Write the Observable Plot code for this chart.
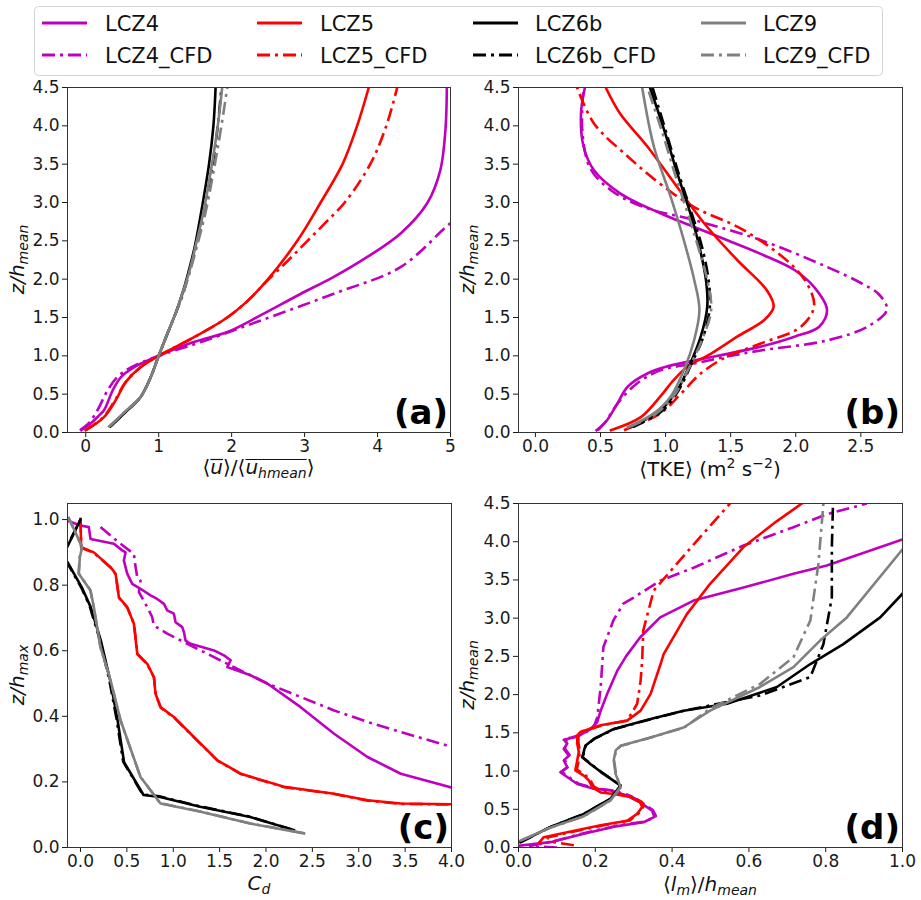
<!DOCTYPE html>
<html>
<head>
<meta charset="utf-8">
<script src="https://cdn.jsdelivr.net/npm/d3@7"></script>
<script src="https://cdn.jsdelivr.net/npm/@observablehq/plot@0.6"></script>
<style>
  body { margin: 0; background: #fff; }
  #fig { position: relative; width: 921px; height: 900px; font-family: "DejaVu Sans", sans-serif; overflow: hidden; }
  #fig svg { position: absolute; overflow: visible; }
</style>
</head>
<body>
<div id="fig"></div>
<script>
// ---------------- series meta ----------------
const seriesNames = ["LCZ4", "LCZ4_CFD", "LCZ5", "LCZ5_CFD", "LCZ6b", "LCZ6b_CFD", "LCZ9", "LCZ9_CFD"];
const seriesColors = ["#bf00bf", "#bf00bf", "#ff0000", "#ff0000", "#000000", "#000000", "#808080", "#808080"];

// ---------------- tick values ----------------
const aXTicks = [0, 1, 2, 3, 4, 5];
const bXTicks = [0, 0.5, 1.0, 1.5, 2.0, 2.5];
const cXTicks = [0, 0.5, 1.0, 1.5, 2.0, 2.5, 3.0, 3.5, 4.0];
const dXTicks = [0, 0.2, 0.4, 0.6, 0.8, 1.0];
const zTicks = [0, 0.5, 1.0, 1.5, 2.0, 2.5, 3.0, 3.5, 4.0, 4.5];
const cYTicks = [0, 0.2, 0.4, 0.6, 0.8, 1.0];

// ---------------- (a) <u>/<u_hmean> vs z/h_mean ----------------
const a_LCZ4 = [[-0.06,0.03],[0.07,0.12],[0.18,0.22],[0.25,0.29],[0.37,0.55],[0.48,0.72],[0.66,0.85],[1.0,1.0],[1.48,1.18],[1.94,1.31],[2.4,1.53],[2.95,1.81],[3.4,2.03],[3.86,2.29],[4.32,2.6],[4.68,2.99],[4.86,3.42],[4.93,3.94],[4.95,4.5]];
const a_LCZ4_CFD = [[-0.08,0.03],[0.05,0.13],[0.16,0.29],[0.3,0.55],[0.43,0.72],[0.62,0.85],[1.0,1.0],[1.58,1.18],[2.31,1.43],[3.4,1.81],[4.32,2.16],[5.0,2.73],[5.2,2.85]];
const a_LCZ5 = [[0.0,0.03],[0.25,0.2],[0.41,0.42],[0.55,0.66],[0.75,0.85],[1.0,1.0],[1.48,1.24],[1.94,1.5],[2.2,1.7],[2.49,1.99],[2.9,2.5],[3.22,3.0],[3.52,3.5],[3.72,4.0],[3.88,4.5]];
const a_LCZ5_CFD = [[0.0,0.03],[0.24,0.2],[0.4,0.42],[0.55,0.66],[0.75,0.85],[1.0,1.0],[1.48,1.24],[1.94,1.5],[2.2,1.7],[2.5,1.99],[2.78,2.25],[3.04,2.5],[3.3,2.75],[3.55,3.0],[3.9,3.5],[4.12,4.0],[4.27,4.5]];
const a_LCZ6b = [[0.34,0.08],[0.57,0.29],[0.75,0.46],[0.89,0.72],[1.0,1.0],[1.12,1.29],[1.23,1.55],[1.32,1.8],[1.41,2.1],[1.5,2.45],[1.58,2.86],[1.69,3.5],[1.75,4.0],[1.78,4.5]];
const a_LCZ6b_CFD = [[0.34,0.08],[0.57,0.29],[0.75,0.46],[0.89,0.72],[1.0,1.0],[1.12,1.29],[1.23,1.55],[1.33,1.8],[1.42,2.1],[1.52,2.45],[1.62,2.86],[1.74,3.5],[1.81,4.0],[1.86,4.5]];
const a_LCZ9 = [[0.32,0.08],[0.56,0.29],[0.75,0.46],[0.89,0.72],[1.0,1.0],[1.12,1.29],[1.23,1.55],[1.32,1.8],[1.42,2.1],[1.51,2.45],[1.61,2.86],[1.73,3.5],[1.81,4.0],[1.87,4.5]];
const a_LCZ9_CFD = [[0.33,0.08],[0.56,0.29],[0.75,0.46],[0.89,0.72],[1.0,1.0],[1.12,1.29],[1.23,1.55],[1.33,1.8],[1.43,2.1],[1.53,2.45],[1.64,2.86],[1.77,3.5],[1.86,4.0],[1.94,4.5]];

// ---------------- (b) <TKE> vs z/h_mean ----------------
const b_LCZ4 = [[0.47,0.03],[0.55,0.16],[0.63,0.38],[0.71,0.6],[0.86,0.77],[1.01,0.86],[1.4,1.0],[1.73,1.12],[1.99,1.25],[2.18,1.38],[2.24,1.6],[2.14,1.9],[1.99,2.12],[1.73,2.33],[1.47,2.51],[1.22,2.68],[0.96,2.86],[0.65,3.12],[0.45,3.42],[0.37,3.73],[0.35,4.16],[0.38,4.5]];
const b_LCZ4_CFD = [[0.48,0.03],[0.53,0.12],[0.6,0.3],[0.65,0.42],[0.78,0.64],[0.96,0.81],[1.22,0.9],[1.47,0.99],[1.73,1.07],[2.24,1.2],[2.55,1.38],[2.7,1.6],[2.64,1.8],[2.5,1.95],[2.24,2.16],[1.73,2.51],[1.22,2.77],[0.83,2.94],[0.58,3.16],[0.42,3.45],[0.36,3.94],[0.37,4.5]];
const b_LCZ5 = [[0.58,0.03],[0.81,0.2],[0.96,0.47],[1.06,0.68],[1.17,0.86],[1.35,1.03],[1.55,1.25],[1.76,1.47],[1.83,1.64],[1.78,1.85],[1.55,2.25],[1.32,2.68],[1.09,3.2],[0.86,3.73],[0.65,4.16],[0.54,4.5]];
const b_LCZ5_CFD = [[0.68,0.03],[0.96,0.25],[1.12,0.51],[1.27,0.77],[1.47,0.99],[1.73,1.16],[2.04,1.38],[2.14,1.64],[2.1,1.9],[1.96,2.2],[1.6,2.64],[1.22,2.94],[0.96,3.24],[0.71,3.6],[0.45,4.03],[0.32,4.5]];
const b_LCZ6b = [[0.73,0.07],[0.96,0.29],[1.09,0.55],[1.19,0.9],[1.27,1.25],[1.32,1.64],[1.31,1.99],[1.26,2.42],[1.19,2.86],[1.09,3.38],[0.99,3.94],[0.88,4.5]];
const b_LCZ6b_CFD = [[0.75,0.07],[0.98,0.29],[1.1,0.55],[1.2,0.9],[1.29,1.25],[1.34,1.64],[1.33,1.99],[1.28,2.42],[1.2,2.86],[1.1,3.38],[1.0,3.94],[0.9,4.5]];
const b_LCZ9 = [[0.71,0.07],[0.91,0.25],[1.04,0.47],[1.14,0.81],[1.22,1.21],[1.26,1.6],[1.22,1.99],[1.14,2.51],[1.04,3.07],[0.91,3.73],[0.82,4.5]];
const b_LCZ9_CFD = [[0.72,0.07],[0.93,0.25],[1.06,0.47],[1.17,0.81],[1.28,1.21],[1.35,1.6],[1.32,1.99],[1.25,2.42],[1.17,2.86],[1.07,3.38],[0.97,3.94],[0.86,4.5]];

// ---------------- (c) C_d vs z/h_max ----------------
const c_LCZ4 = [[-0.2,1.0],[-0.144,0.997],[0.0,0.982],[0.09,0.977],[0.108,0.941],[0.36,0.926],[0.45,0.906],[0.486,0.9],[0.468,0.875],[0.504,0.835],[0.558,0.804],[0.647,0.789],[0.755,0.769],[0.827,0.758],[0.9,0.743],[0.935,0.723],[1.007,0.713],[1.025,0.687],[1.097,0.672],[1.115,0.657],[1.133,0.631],[1.187,0.621],[1.439,0.601],[1.547,0.586],[1.619,0.571],[1.583,0.55],[1.835,0.525],[2.014,0.5],[2.374,0.428],[2.734,0.347],[3.094,0.276],[3.453,0.225],[4.0,0.183]];
const c_LCZ4_CFD = [[0.216,0.977],[0.432,0.926],[0.576,0.895],[0.594,0.855],[0.612,0.824],[0.647,0.814],[0.63,0.779],[0.72,0.733],[0.773,0.703],[0.791,0.677],[0.935,0.652],[1.295,0.601],[1.655,0.55],[2.014,0.5],[2.374,0.459],[2.734,0.418],[3.094,0.383],[3.453,0.352],[4.0,0.307]];
const c_LCZ5 = [[0.0,1.002],[0.007,0.916],[0.144,0.9],[0.324,0.855],[0.378,0.835],[0.414,0.763],[0.504,0.733],[0.576,0.682],[0.612,0.591],[0.72,0.56],[0.791,0.52],[0.809,0.469],[0.863,0.428],[1.007,0.398],[1.223,0.337],[1.475,0.266],[1.727,0.225],[2.194,0.185],[2.734,0.164],[3.094,0.144],[3.453,0.134],[4.0,0.132]];
const c_LCZ5_CFD = [[0.0,1.0],[0.008,0.914],[0.146,0.898],[0.326,0.853],[0.38,0.833],[0.416,0.761],[0.506,0.731],[0.578,0.68],[0.614,0.589],[0.722,0.558],[0.793,0.518],[0.811,0.467],[0.866,0.426],[1.01,0.396],[1.226,0.335],[1.478,0.265],[1.73,0.224],[2.197,0.184],[2.737,0.163],[3.097,0.143],[3.456,0.133],[4.0,0.131]];
const c_LCZ6b = [[2.3,0.053],[1.83,0.093],[1.29,0.124],[0.86,0.154],[0.68,0.16],[0.47,0.26],[0.4,0.388],[0.32,0.51],[0.22,0.63],[0.11,0.733],[0.02,0.79],[-0.14,0.87],[-0.3,0.9],[-0.144,0.916],[0.0,1.0]];
const c_LCZ6b_CFD = [[2.28,0.055],[1.81,0.095],[1.28,0.126],[0.85,0.156],[0.67,0.162],[0.46,0.262],[0.39,0.39],[0.31,0.512],[0.21,0.632],[0.1,0.735],[0.01,0.792],[-0.15,0.872],[-0.3,0.9],[-0.145,0.918],[0.0,1.0]];
const c_LCZ9 = [[2.41,0.043],[1.83,0.073],[1.295,0.109],[0.863,0.134],[0.647,0.215],[0.432,0.388],[0.324,0.51],[0.216,0.611],[0.144,0.733],[0.108,0.784],[-0.018,0.835],[-0.007,0.885],[0.018,0.916],[-0.126,1.005]];
const c_LCZ9_CFD = [[2.4,0.044],[1.82,0.074],[1.29,0.11],[0.86,0.135],[0.645,0.216],[0.43,0.389],[0.322,0.511],[0.214,0.612],[0.142,0.734],[0.106,0.785],[-0.02,0.836],[-0.009,0.886],[0.016,0.917],[-0.128,1.005]];

// ---------------- (d) <l_m>/h_mean vs z/h_mean ----------------
const d_LCZ4 = [[0.0,0.022],[0.083,0.07],[0.17,0.18],[0.257,0.28],[0.326,0.33],[0.354,0.4],[0.348,0.48],[0.317,0.59],[0.282,0.68],[0.24,0.746],[0.196,0.77],[0.153,0.83],[0.109,0.985],[0.127,1.05],[0.118,1.14],[0.131,1.2],[0.118,1.29],[0.127,1.36],[0.118,1.41],[0.135,1.43],[0.153,1.45],[0.188,1.55],[0.205,1.64],[0.214,1.79],[0.231,2.01],[0.257,2.31],[0.28,2.5],[0.317,2.75],[0.369,3.01],[0.456,3.23],[0.586,3.4],[0.716,3.58],[0.803,3.69],[1.0,4.03]];
const d_LCZ4_CFD = [[0.1,0.0],[0.03,0.02],[0.09,0.08],[0.18,0.2],[0.262,0.29],[0.33,0.34],[0.358,0.41],[0.35,0.49],[0.318,0.6],[0.284,0.69],[0.242,0.75],[0.198,0.775],[0.156,0.835],[0.112,0.99],[0.13,1.06],[0.12,1.15],[0.133,1.21],[0.12,1.3],[0.129,1.37],[0.12,1.42],[0.138,1.44],[0.16,1.47],[0.195,1.56],[0.205,1.7],[0.214,2.1],[0.221,2.62],[0.247,2.97],[0.273,3.19],[0.3,3.27],[0.369,3.49],[0.456,3.66],[0.586,3.95],[0.716,4.19],[0.803,4.36],[0.907,4.5]];
const d_LCZ5 = [[0.053,0.06],[0.066,0.135],[0.127,0.2],[0.214,0.29],[0.283,0.35],[0.309,0.44],[0.322,0.53],[0.317,0.59],[0.291,0.66],[0.248,0.7],[0.214,0.72],[0.192,0.79],[0.183,0.88],[0.17,0.94],[0.148,1.01],[0.153,1.14],[0.157,1.25],[0.153,1.36],[0.153,1.465],[0.161,1.51],[0.214,1.6],[0.283,1.66],[0.318,1.79],[0.344,2.01],[0.37,2.4],[0.378,2.53],[0.438,3.05],[0.499,3.45],[0.586,3.93],[0.673,4.27],[0.738,4.5]];
const d_LCZ5_CFD = [[0.144,0.03],[0.092,0.07],[0.075,0.13],[0.135,0.2],[0.222,0.29],[0.29,0.355],[0.314,0.45],[0.326,0.54],[0.32,0.6],[0.294,0.67],[0.252,0.71],[0.218,0.73],[0.196,0.8],[0.186,0.89],[0.173,0.95],[0.152,1.02],[0.157,1.15],[0.16,1.26],[0.156,1.37],[0.156,1.47],[0.166,1.52],[0.22,1.6],[0.283,1.66],[0.309,1.88],[0.318,2.18],[0.322,2.45],[0.325,2.84],[0.352,3.36],[0.412,3.71],[0.473,4.06],[0.551,4.5]];
const d_LCZ6b = [[0.005,0.07],[0.083,0.27],[0.17,0.44],[0.24,0.64],[0.266,0.81],[0.214,0.99],[0.188,1.09],[0.166,1.18],[0.174,1.33],[0.196,1.42],[0.248,1.55],[0.344,1.68],[0.43,1.79],[0.543,1.88],[0.673,2.1],[0.76,2.4],[0.846,2.66],[0.942,3.01],[1.0,3.32]];
const d_LCZ6b_CFD = [[0.006,0.07],[0.084,0.27],[0.171,0.44],[0.241,0.64],[0.266,0.81],[0.215,0.99],[0.189,1.09],[0.167,1.18],[0.175,1.33],[0.197,1.42],[0.25,1.55],[0.346,1.68],[0.432,1.79],[0.54,1.9],[0.63,1.99],[0.76,2.23],[0.794,2.66],[0.816,3.27],[0.816,3.92],[0.819,4.5]];
const d_LCZ9 = [[0.005,0.09],[0.083,0.26],[0.17,0.41],[0.24,0.62],[0.266,0.79],[0.253,0.96],[0.248,1.14],[0.253,1.27],[0.266,1.33],[0.344,1.44],[0.43,1.57],[0.499,1.79],[0.629,2.1],[0.716,2.36],[0.786,2.71],[0.855,3.01],[1.0,3.9]];
const d_LCZ9_CFD = [[0.006,0.09],[0.084,0.26],[0.171,0.41],[0.241,0.62],[0.266,0.79],[0.254,0.96],[0.249,1.14],[0.254,1.27],[0.267,1.33],[0.345,1.44],[0.432,1.57],[0.5,1.82],[0.629,2.14],[0.716,2.49],[0.76,2.97],[0.781,3.71],[0.794,4.5]];

// ---------------- helpers ----------------
const fig = document.getElementById("fig");
const dashDot = "13,5,3,5";

function mathText(sel, x, y, parts, rotate) {
  const t = sel.append("text")
    .attr("text-anchor", "middle")
    .attr("font-family", "DejaVu Sans")
    .attr("font-size", 20)
    .attr("fill", "#111");
  if (rotate) t.attr("transform", `translate(${x},${y}) rotate(-90)`);
  else t.attr("x", x).attr("y", y);
  let shift = 0;
  const nodes = [];
  parts.forEach(p => {
    const target = p.sub ? 4 : p.sup ? -8 : 0;
    const ts = t.append("tspan").text(p.t).attr("dy", target - shift);
    shift = target;
    if (p.sub || p.sup) ts.attr("font-size", 14);
    if (p.it) ts.attr("font-style", "italic");
    nodes.push(ts.node());
  });
  return {t, nodes};
}

function panel(cfg) {
  const lines = cfg.data.map((d, i) => Plot.line(d, {
    x: p => p[0], y: p => p[1],
    stroke: seriesColors[i],
    strokeWidth: 2.6,
    strokeDasharray: i % 2 ? dashDot : undefined,
    strokeLinecap: i % 2 ? "butt" : "square",
    strokeLinejoin: "round",
    curve: cfg.curve,
    clip: true
  }));
  const svg = Plot.plot({
    width: cfg.w, height: cfg.h,
    marginLeft: cfg.ml, marginRight: cfg.mr, marginTop: cfg.mt, marginBottom: cfg.mb,
    style: {fontFamily: "DejaVu Sans", fontSize: "17px", color: "#1a1a1a", background: "transparent", overflow: "visible"},
    x: {domain: cfg.xd},
    y: {domain: cfg.yd},
    marks: [
      ...lines,
      Plot.axisX({ticks: cfg.xt, tickFormat: cfg.xf, tickSize: 5, tickPadding: 2, fontSize: 17, label: null}),
      Plot.axisY({ticks: cfg.yt, tickFormat: cfg.yf, tickSize: 5, tickPadding: 3, fontSize: 17, label: null}),
      Plot.frame({stroke: "#333", strokeWidth: 1})
    ]
  });
  svg.style.left = cfg.left + "px";
  svg.style.top = cfg.top + "px";
  fig.appendChild(svg);
  const s = d3.select(svg);
  // panel tag
  s.append("text")
    .attr("x", cfg.w - cfg.mr - 2)
    .attr("y", cfg.h - cfg.mb - 8)
    .attr("text-anchor", "end")
    .attr("font-family", "DejaVu Sans")
    .attr("font-weight", "bold")
    .attr("font-size", 34)
    .attr("fill", "#000")
    .text(cfg.tag);
  // y label
  mathText(s, cfg.ylx, cfg.mt + (cfg.h - cfg.mt - cfg.mb) / 2, cfg.ylabel, true);
  // x label
  const xl = mathText(s, cfg.ml + (cfg.w - cfg.ml - cfg.mr) / 2, cfg.h - cfg.xlb, cfg.xlabel, false);
  if (cfg.overlines) {
    cfg.overlines.forEach(([i0, i1]) => {
      try {
        const n0 = xl.nodes[i0], n1 = xl.nodes[i1];
        const e0 = n0.getExtentOfChar(0);
        const e1 = n1.getExtentOfChar(n1.textContent.length - 1);
        const yb = cfg.h - cfg.xlb - 14.5;
        s.append("line").attr("x1", e0.x).attr("x2", e1.x + e1.width)
          .attr("y1", yb).attr("y2", yb).attr("stroke", "#111").attr("stroke-width", 1.2);
      } catch (e) {}
    });
  }
  return svg;
}

const f1 = d3.format(".1f");
const zLabel = [{t: "z/h", it: true}, {t: "mean", it: true, sub: true}];

panel({
  tag: "(a)", left: 0, top: 78, w: 460, h: 402, ml: 67, mr: 10, mt: 9, mb: 48,
  xd: [-0.25, 5], yd: [0, 4.5], xt: aXTicks, xf: d => String(d), yt: zTicks, yf: f1,
  curve: "catmull-rom",
  data: [a_LCZ4, a_LCZ4_CFD, a_LCZ5, a_LCZ5_CFD, a_LCZ6b, a_LCZ6b_CFD, a_LCZ9, a_LCZ9_CFD],
  ylx: 24, ylabel: zLabel,
  xlb: 6,
  xlabel: [{t: "⟨"}, {t: "u", it: true}, {t: "⟩/⟨"}, {t: "u", it: true}, {t: "hmean", it: true, sub: true}, {t: "⟩"}],
  overlines: [[1, 1], [3, 4]]
});

panel({
  tag: "(b)", left: 460, top: 78, w: 461, h: 402, ml: 58, mr: 19, mt: 9, mb: 48,
  xd: [-0.13, 2.82], yd: [0, 4.5], xt: bXTicks, xf: f1, yt: zTicks, yf: f1,
  curve: "catmull-rom",
  data: [b_LCZ4, b_LCZ4_CFD, b_LCZ5, b_LCZ5_CFD, b_LCZ6b, b_LCZ6b_CFD, b_LCZ9, b_LCZ9_CFD],
  ylx: 14, ylabel: zLabel,
  xlb: 4,
  xlabel: [{t: "⟨TKE⟩ (m"}, {t: "2", sup: true}, {t: " s"}, {t: "−2", sup: true}, {t: ")"}]
});

panel({
  tag: "(c)", left: 0, top: 480, w: 460, h: 420, ml: 67, mr: 9, mt: 23, mb: 53,
  xd: [-0.14, 4], yd: [0, 1.049], xt: cXTicks, xf: f1, yt: cYTicks, yf: f1,
  curve: "linear",
  data: [c_LCZ4, c_LCZ4_CFD, c_LCZ5, c_LCZ5_CFD, c_LCZ6b, c_LCZ6b_CFD, c_LCZ9, c_LCZ9_CFD],
  ylx: 24, ylabel: [{t: "z/h", it: true}, {t: "max", it: true, sub: true}],
  xlb: 10,
  xlabel: [{t: "C", it: true}, {t: "d", it: true, sub: true}]
});

panel({
  tag: "(d)", left: 460, top: 480, w: 461, h: 420, ml: 58, mr: 19, mt: 23, mb: 53,
  xd: [0, 1], yd: [0, 4.5], xt: dXTicks, xf: f1, yt: zTicks, yf: f1,
  curve: "linear",
  data: [d_LCZ4, d_LCZ4_CFD, d_LCZ5, d_LCZ5_CFD, d_LCZ6b, d_LCZ6b_CFD, d_LCZ9, d_LCZ9_CFD],
  ylx: 14, ylabel: zLabel,
  xlb: 9,
  xlabel: [{t: "⟨"}, {t: "l", it: true}, {t: "m", it: true, sub: true}, {t: "⟩/"}, {t: "h", it: true}, {t: "mean", it: true, sub: true}]
});

// ---------------- legend ----------------
const legCols = [[8, 71], [223, 286], [439, 501], [667, 729]];
const leg = d3.select(fig).append("svg")
  .attr("width", 849).attr("height", 70)
  .style("left", "34px").style("top", "6px");
leg.append("rect").attr("x", 0.5).attr("y", 0.5).attr("width", 848).attr("height", 69)
  .attr("rx", 4).attr("fill", "#fff").attr("stroke", "#d4d4d4").attr("stroke-width", 1);
seriesNames.forEach((name, i) => {
  const col = Math.floor(i / 2), row = i % 2;
  const yy = row ? 49 : 17;
  const [lx, tx] = legCols[col];
  leg.append("line").attr("x1", lx).attr("x2", lx + 45).attr("y1", yy).attr("y2", yy)
    .attr("stroke", seriesColors[i]).attr("stroke-width", 2.8)
    .attr("stroke-dasharray", row ? dashDot : null);
  leg.append("text").attr("x", tx).attr("y", yy).attr("dy", "0.36em")
    .attr("font-family", "DejaVu Sans").attr("font-size", 21).attr("fill", "#111")
    .text(name);
});
</script>
</body>
</html>
